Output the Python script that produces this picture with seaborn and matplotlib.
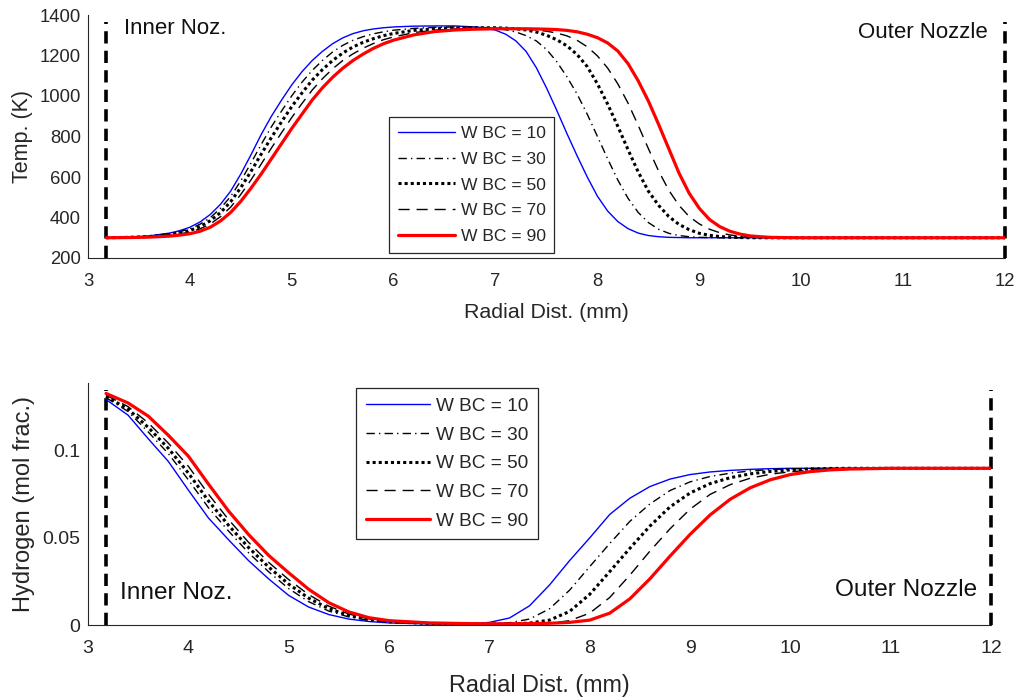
import matplotlib
matplotlib.use("Agg")
import matplotlib.pyplot as plt
import seaborn as sns

# ---------------- data ----------------
series_labels = ["W BC = 10", "W BC = 30", "W BC = 50", "W BC = 70", "W BC = 90"]
inner_nozzle = 3.18
outer_nozzle = 12.0

radial_temp = [3.18, 3.4, 3.6,
               3.8, 3.9, 4.0, 4.1, 4.2, 4.3, 4.4, 4.5, 4.6, 4.7,
               4.8, 4.9, 5.0, 5.1, 5.2, 5.3, 5.4, 5.5, 5.6, 5.7,
               5.8, 5.9, 6.0,
               6.2, 6.4, 6.6,
               6.8, 6.9, 7.0, 7.1, 7.2, 7.3, 7.4, 7.5, 7.6, 7.7,
               7.8, 7.9, 8.0, 8.1, 8.2, 8.3, 8.4, 8.5, 8.6, 8.7,
               8.8, 8.9, 9.0, 9.1, 9.2, 9.3, 9.4, 9.5, 9.6, 9.7,
               9.8,
               10.0, 10.5, 11.0, 11.5, 12.0]

temp_wbc10 = [300, 302, 309,
              323, 335, 352, 378, 415, 465, 530, 615, 710, 810,
              900, 980, 1055, 1120, 1175, 1220, 1258, 1287, 1308, 1322,
              1331, 1337, 1341,
              1345, 1346, 1346,
              1341, 1336, 1325, 1305, 1272, 1220, 1140, 1040, 930, 815,
              705, 600, 505, 432, 380, 345, 323, 311, 305, 302,
              301, 300, 300, 300, 300, 300, 300, 300, 300, 300,
              300,
              300, 300, 300, 300, 300]
temp_wbc30 = [300, 302, 307,
              319, 330, 344, 367, 399, 445, 504, 581, 669, 761,
              848, 926, 1001, 1068, 1126, 1175, 1217, 1250, 1275, 1293,
              1307, 1317, 1325,
              1334, 1339, 1341,
              1340, 1338, 1334, 1327, 1316, 1298, 1272, 1230, 1170, 1095,
              1010, 910, 800, 690, 585, 495, 425, 375, 342, 322,
              311, 305, 302, 301, 300, 300, 300, 300, 300, 300,
              300,
              300, 300, 300, 300, 300]
temp_wbc50 = [300, 302, 306,
              316, 324, 336, 355, 384, 424, 478, 548, 628, 713,
              795, 873, 948, 1015, 1078, 1130, 1175, 1212, 1242, 1265,
              1283, 1298, 1309,
              1324, 1332, 1336,
              1337, 1337, 1337, 1335, 1332, 1326, 1316, 1300, 1278, 1248,
              1205, 1145, 1060, 960, 850, 735, 625, 530, 460, 405,
              366, 340, 322, 312, 306, 303, 301, 300, 300, 300,
              300,
              300, 300, 300, 300, 300]
temp_wbc70 = [300, 301, 305,
              312, 319, 328, 344, 368, 404, 451, 514, 586, 664,
              743, 819, 894, 963, 1029, 1085, 1134, 1175, 1208, 1236,
              1259, 1278, 1292,
              1313, 1325, 1331,
              1334, 1335, 1335, 1334, 1333, 1330, 1326, 1320, 1311, 1297,
              1275, 1243, 1198, 1138, 1060, 965, 855, 740, 630, 535,
              460, 405, 368, 342, 325, 314, 307, 303, 301, 300,
              300,
              300, 300, 300, 300, 300]
temp_wbc90 = [300, 301, 303,
              308, 313, 320, 332, 352, 383, 425, 480, 545, 615,
              690, 765, 840, 910, 980, 1040, 1092, 1137, 1175, 1207,
              1235, 1258, 1276,
              1302, 1318, 1326,
              1330, 1331, 1332, 1332, 1332, 1332, 1331, 1330, 1328, 1324,
              1317, 1305, 1288, 1262, 1222, 1160, 1075, 975, 860, 740,
              620, 520, 445, 390, 355, 332, 318, 309, 305, 302,
              301,
              300, 300, 300, 300, 300]

radial_h2 = [3.18, 3.4, 3.6, 3.8, 4.0, 4.2, 4.4, 4.6, 4.8, 5.0, 5.2, 5.4, 5.6, 5.8, 6.0, 6.4, 6.8,
             7.0, 7.2, 7.4, 7.6, 7.8, 8.0, 8.2, 8.4, 8.6, 8.8, 9.0, 9.2, 9.4, 9.6, 9.8, 10.0, 10.2, 10.4, 10.6,
             11.0, 11.5, 12.0]

h2_wbc10 = [0.1295, 0.1205, 0.107, 0.094, 0.0775, 0.0615, 0.049, 0.037, 0.0265, 0.017, 0.0103, 0.006,
            0.0034, 0.002, 0.0012, 0.0006, 0.0006,
            0.0015, 0.004, 0.011, 0.023, 0.037, 0.050, 0.0635, 0.0728, 0.0795, 0.0838, 0.0864, 0.0879,
            0.0888, 0.0894, 0.0898, 0.09, 0.09, 0.09, 0.09,
            0.09, 0.09, 0.09]
h2_wbc30 = [0.1306, 0.1226, 0.1109, 0.0985, 0.0834, 0.0674, 0.0540, 0.0415, 0.0306, 0.0209, 0.0134, 0.0080,
            0.0046, 0.0027, 0.0016, 0.0008, 0.0006,
            0.0006, 0.0013, 0.0034, 0.0093, 0.020, 0.0335, 0.0468, 0.0595, 0.0695, 0.0772, 0.0822, 0.0853,
            0.0872, 0.0885, 0.0893, 0.0897, 0.0899, 0.09, 0.09,
            0.09, 0.09, 0.09]
h2_wbc50 = [0.1313, 0.1240, 0.1135, 0.1015, 0.0873, 0.0713, 0.0573, 0.0445, 0.0333, 0.0235, 0.0154, 0.0094,
            0.0055, 0.0031, 0.0019, 0.0009, 0.0007,
            0.0006, 0.0006, 0.0011, 0.0028, 0.0078, 0.0176, 0.0307, 0.044, 0.0568, 0.0678, 0.0758, 0.0812,
            0.0846, 0.0868, 0.0882, 0.0891, 0.0896, 0.0899, 0.09,
            0.09, 0.09, 0.09]
h2_wbc70 = [0.1320, 0.1254, 0.1161, 0.1045, 0.0912, 0.0752, 0.0606, 0.0475, 0.0360, 0.0261, 0.0174, 0.0108,
            0.0063, 0.0035, 0.0021, 0.0010, 0.0008,
            0.0007, 0.0006, 0.0006, 0.0009, 0.0025, 0.0068, 0.0158, 0.0286, 0.0424, 0.0552, 0.0665, 0.0750,
            0.0806, 0.0843, 0.0866, 0.0880, 0.0889, 0.0895, 0.0898,
            0.09, 0.09, 0.09]
h2_wbc90 = [0.133, 0.1275, 0.120, 0.109, 0.097, 0.081, 0.0655, 0.052, 0.040, 0.030, 0.0205, 0.0128,
            0.0075, 0.0042, 0.0025, 0.0012, 0.0008,
            0.0007, 0.0007, 0.0008, 0.001, 0.0015, 0.0028, 0.0068, 0.015, 0.0265, 0.0395, 0.052, 0.0632,
            0.0722, 0.0788, 0.0834, 0.0864, 0.0881, 0.0891, 0.0896,
            0.09, 0.09, 0.09]

temp_x_ticks = [3, 4, 5, 6, 7, 8, 9, 10, 11, 12]
temp_y_ticks = [200, 400, 600, 800, 1000, 1200, 1400]
h2_y_ticks = [0, 0.05, 0.1]
h2_y_ticklabels = ["0", "0.05", "0.1"]

# ---------------- style ----------------
sns.set_style("white")
plt.rcParams['font.family'] = ['Liberation Sans', 'DejaVu Sans']

AX_COL = "#262626"
line_styles = [
    dict(color=(0, 0, 1), linewidth=1.0, linestyle="-"),
    dict(color="black", linewidth=1.0, linestyle=(0, (6, 3, 1, 3))),
    dict(color="black", linewidth=2.2, linestyle=(0, (1, 1))),
    dict(color="black", linewidth=1.0, linestyle=(0, (8, 5))),
    dict(color=(1, 0, 0), linewidth=2.3, linestyle="-"),
]

fig = plt.figure(figsize=(10.21, 7.0), dpi=100)
ax1 = fig.add_axes([88 / 1021, 1 - 258 / 700, 917 / 1021, 243 / 700])
ax2 = fig.add_axes([88 / 1021, 1 - 625 / 700, 903 / 1021, 242 / 700])


def style_axes(ax, tick_size, pad_x, pad_y):
    for s in ["top", "right"]:
        ax.spines[s].set_visible(False)
    for s in ["left", "bottom"]:
        ax.spines[s].set_color(AX_COL)
        ax.spines[s].set_linewidth(0.8)
    ax.tick_params(axis="both", direction="in", length=7, width=0.8,
                   colors=AX_COL, labelsize=tick_size)
    ax.tick_params(axis="x", pad=pad_x)
    ax.tick_params(axis="y", pad=pad_y)


nozzle_style = dict(color="black", linewidth=2.6, linestyle=(0, (3.4, 2.0)), zorder=1)

# ---------------- top: temperature ----------------
ax1.axvline(inner_nozzle, ymin=0, ymax=0.97, **nozzle_style)
ax1.axvline(outer_nozzle, ymin=0, ymax=0.97, clip_on=False, **nozzle_style)
for vals, lab, st in zip([temp_wbc10, temp_wbc30, temp_wbc50, temp_wbc70, temp_wbc90],
                         series_labels, line_styles):
    sns.lineplot(x=radial_temp, y=vals, ax=ax1, label=lab, errorbar=None, sort=False, **st)

ax1.set_xlim(3, 12)
ax1.set_ylim(200, 1400)
ax1.set_xticks(temp_x_ticks)
ax1.set_yticks(temp_y_ticks)
style_axes(ax1, 13.3, 10.5, 5.0)
ax1.set_xlabel("Radial Dist. (mm)", fontsize=15.4, color=AX_COL, labelpad=10)
ax1.set_ylabel("Temp. (K)", fontsize=15.5, color=AX_COL, labelpad=5)
ax1.text(3.35, 1331, "Inner Noz.", fontsize=16, ha="left", va="center", color="#111111")
ax1.text(11.83, 1313, "Outer Nozzle", fontsize=16, ha="right", va="center", color="#111111")
leg1 = ax1.legend(loc="upper left", bbox_to_anchor=(0.328, 0.580), borderaxespad=0,
                  fontsize=12.6, handlelength=3.3, handletextpad=0.3, borderpad=0.5,
                  labelspacing=0.6, fancybox=False, framealpha=1, edgecolor=AX_COL)
leg1.get_frame().set_linewidth(0.9)

# ---------------- bottom: hydrogen ----------------
ax2.axvline(inner_nozzle, ymin=0, ymax=0.97, **nozzle_style)
ax2.axvline(outer_nozzle, ymin=0, ymax=0.97, clip_on=False, **nozzle_style)
for vals, lab, st in zip([h2_wbc10, h2_wbc30, h2_wbc50, h2_wbc70, h2_wbc90],
                         series_labels, line_styles):
    sns.lineplot(x=radial_h2, y=vals, ax=ax2, label=lab, errorbar=None, sort=False, **st)

ax2.set_xlim(3, 12)
ax2.set_ylim(0, 0.139)
ax2.set_xticks(temp_x_ticks)
ax2.set_yticks(h2_y_ticks)
ax2.set_yticklabels(h2_y_ticklabels)
style_axes(ax2, 14.0, 11.0, 5.5)
ax2.set_xlabel("Radial Dist. (mm)", fontsize=16.8, color=AX_COL, labelpad=12)
ax2.set_ylabel("Hydrogen (mol frac.)", fontsize=17, color=AX_COL, labelpad=5)
ax2.text(3.32, 0.0182, "Inner Noz.", fontsize=17.6, ha="left", va="center", color="#111111")
ax2.text(11.86, 0.0201, "Outer Nozzle", fontsize=17.6, ha="right", va="center", color="#111111")
leg2 = ax2.legend(loc="upper left", bbox_to_anchor=(0.297, 0.979), borderaxespad=0,
                  fontsize=13.7, handlelength=3.4, handletextpad=0.3, borderpad=0.5,
                  labelspacing=0.6, fancybox=False, framealpha=1, edgecolor=AX_COL)
leg2.get_frame().set_linewidth(0.9)

fig.savefig("out.png", dpi=100, facecolor="white")
